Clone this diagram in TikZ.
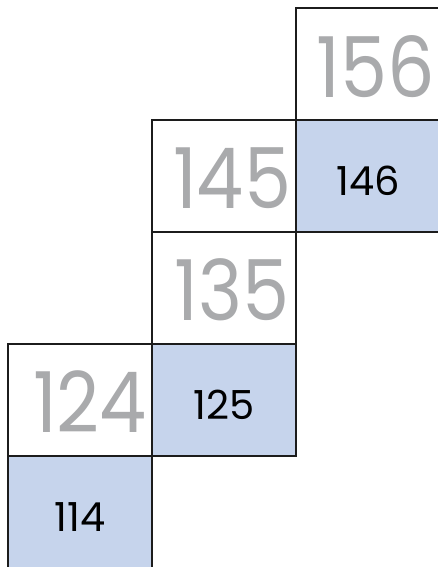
\documentclass[tikz,border=0pt]{standalone}
\usepackage{fontspec}
\setmainfont{Poppins}[Numbers=Proportional]
\definecolor{cellblue}{HTML}{C6D4EC}
\definecolor{ghostgray}{HTML}{A9AAAC}
\definecolor{gridline}{HTML}{1C1C1C}
\begin{document}
\begin{tikzpicture}[
  x=0.75pt, y=-0.75pt,
  cell/.style={draw=gridline, line width=1.9pt, minimum width=108pt, minimum height=84pt, inner sep=0pt, outer sep=0pt},
  filled/.style={cell, fill=cellblue},
  label/.style={anchor=base, inner sep=0pt, font=\fontsize{30}{32}\selectfont},
  ghost/.style={anchor=base, inner sep=0pt, text=ghostgray, xscale=0.89, transform shape, font=\fontsize{63}{66}\selectfont}
]
  \useasboundingbox (0,0) rectangle (438,567);
  \clip (0,0) rectangle (438,567);
  \node[cell] (c156) at (368,64) {};
  \node[cell] (c145) at (224,176) {};
  \node[filled] (c146) at (368,176) {};
  \node[cell] (c135) at (224,288) {};
  \node[cell] (c124) at (80,400) {};
  \node[filled] (c125) at (224,400) {};
  \node[filled] (c114) at (80,512) {};

  % blue cells
  \node[label] (l146) at ([shift={(0,19)}]c146.center) {146};
  \node[label] (l125) at ([shift={(0,19)}]c125.center) {125};
  \node[label] (l114) at ([shift={(0,19)}]c114.center) {114};

  % grey numbers
  \node[ghost] (t156) at ([shift={(8,33)}]c156.center) {156};
  \node[ghost] (t145) at ([shift={(8,32)}]c145.center) {145};
  \node[ghost] (t135) at ([shift={(8,32)}]c135.center) {135};
  \node[ghost] (t124) at ([shift={(10,32)}]c124.center) {124};
\end{tikzpicture}
\end{document}
